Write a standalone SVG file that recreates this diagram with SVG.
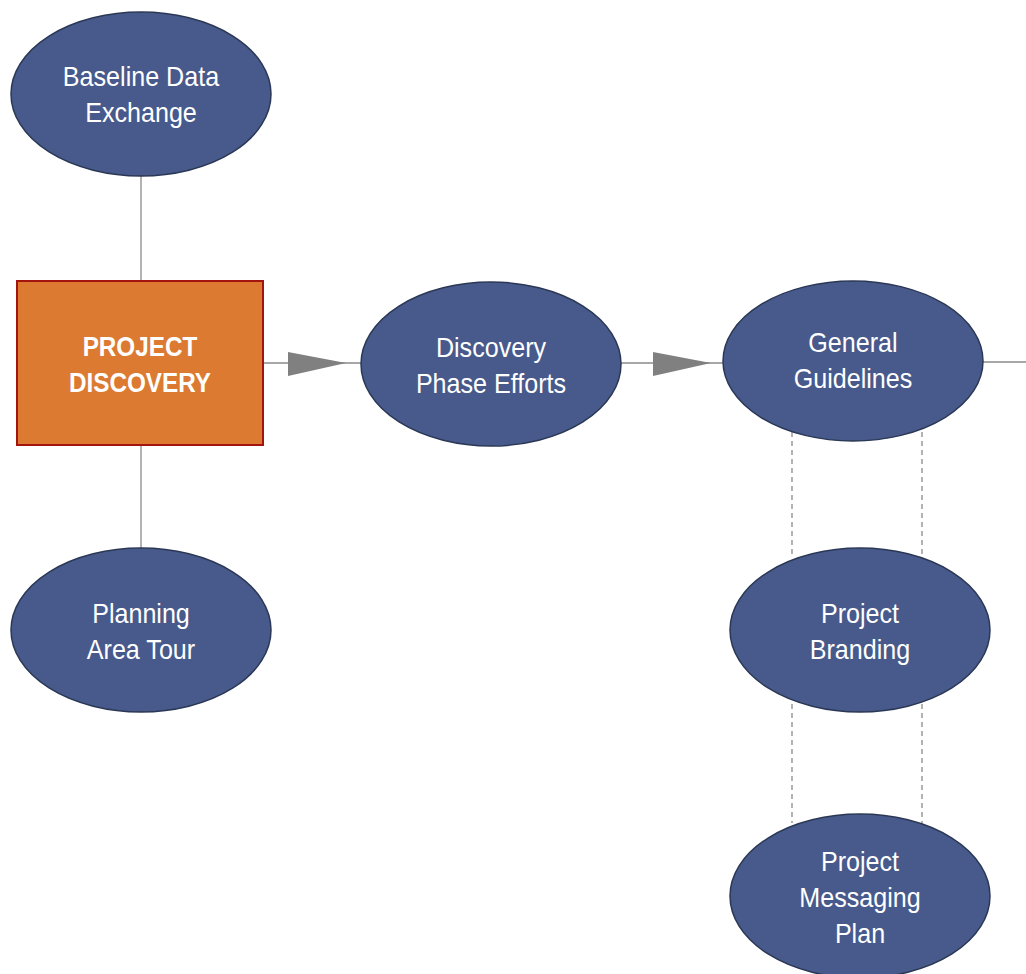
<svg xmlns="http://www.w3.org/2000/svg" width="1026" height="974" viewBox="0 0 1026 974">
<style>
.ell{fill:#475A8B;stroke:#2B3855;stroke-width:1.5}
.box{fill:#DC7A32;stroke:#A3140F;stroke-width:2}
.t{font-family:"Liberation Sans",Arial,sans-serif;font-size:27px;fill:#fff;text-anchor:middle}
.b{font-weight:bold}
.ln{stroke:#8a8a8a;stroke-width:1.3;fill:none}
.dash{stroke:#8a8a8a;stroke-width:1.3;fill:none;stroke-dasharray:5,4}
.ah{fill:#808080}
</style>
<rect width="1026" height="974" fill="#fff"/>
<g id="connectors">
<line class="ln" x1="141" y1="176" x2="141" y2="281"/>
<line class="ln" x1="141" y1="445" x2="141" y2="548"/>
<line class="ln" x1="263" y1="363" x2="361" y2="363"/>
<polygon class="ah" points="288,352 346,363 288,376"/>
<line class="ln" x1="621" y1="363" x2="723" y2="363"/>
<polygon class="ah" points="653,352 711,363 653,376"/>
<line class="ln" x1="983" y1="362" x2="1026" y2="362"/>
<line class="dash" x1="792" y1="432" x2="792" y2="556"/>
<line class="dash" x1="922" y1="432" x2="922" y2="556"/>
<line class="dash" x1="792" y1="704" x2="792" y2="823"/>
<line class="dash" x1="922" y1="704" x2="922" y2="823"/>
</g>
<g id="baseline">
<ellipse class="ell" cx="141" cy="94" rx="130" ry="82"/>
<text class="t" transform="matrix(0.93,0,0,1,9.87,0)"><tspan x="141" y="86">Baseline Data</tspan><tspan x="141" y="122">Exchange</tspan></text>
</g>
<g id="project-discovery">
<rect class="box" x="17" y="281" width="246" height="164"/>
<text class="t b" transform="matrix(0.9,0,0,1,14.0,0)"><tspan x="140" y="356">PROJECT</tspan><tspan x="140" y="392">DISCOVERY</tspan></text>
</g>
<g id="planning">
<ellipse class="ell" cx="141" cy="630" rx="130" ry="82"/>
<text class="t" transform="matrix(0.93,0,0,1,9.87,0)"><tspan x="141" y="623">Planning</tspan><tspan x="141" y="659">Area Tour</tspan></text>
</g>
<g id="discovery-phase">
<ellipse class="ell" cx="491" cy="364" rx="130" ry="82"/>
<text class="t" transform="matrix(0.93,0,0,1,34.37,0)"><tspan x="491" y="357">Discovery</tspan><tspan x="491" y="393">Phase Efforts</tspan></text>
</g>
<g id="general">
<ellipse class="ell" cx="853" cy="361" rx="130" ry="80"/>
<text class="t" transform="matrix(0.93,0,0,1,59.71,0)"><tspan x="853" y="352">General</tspan><tspan x="853" y="388">Guidelines</tspan></text>
</g>
<g id="branding">
<ellipse class="ell" cx="860" cy="630" rx="130" ry="82"/>
<text class="t" transform="matrix(0.93,0,0,1,60.2,0)"><tspan x="860" y="623">Project</tspan><tspan x="860" y="659">Branding</tspan></text>
</g>
<g id="messaging">
<ellipse class="ell" cx="860" cy="896" rx="130" ry="82"/>
<text class="t" transform="matrix(0.93,0,0,1,60.2,0)"><tspan x="860" y="871">Project</tspan><tspan x="860" y="907">Messaging</tspan><tspan x="860" y="943">Plan</tspan></text>
</g>
</svg>
